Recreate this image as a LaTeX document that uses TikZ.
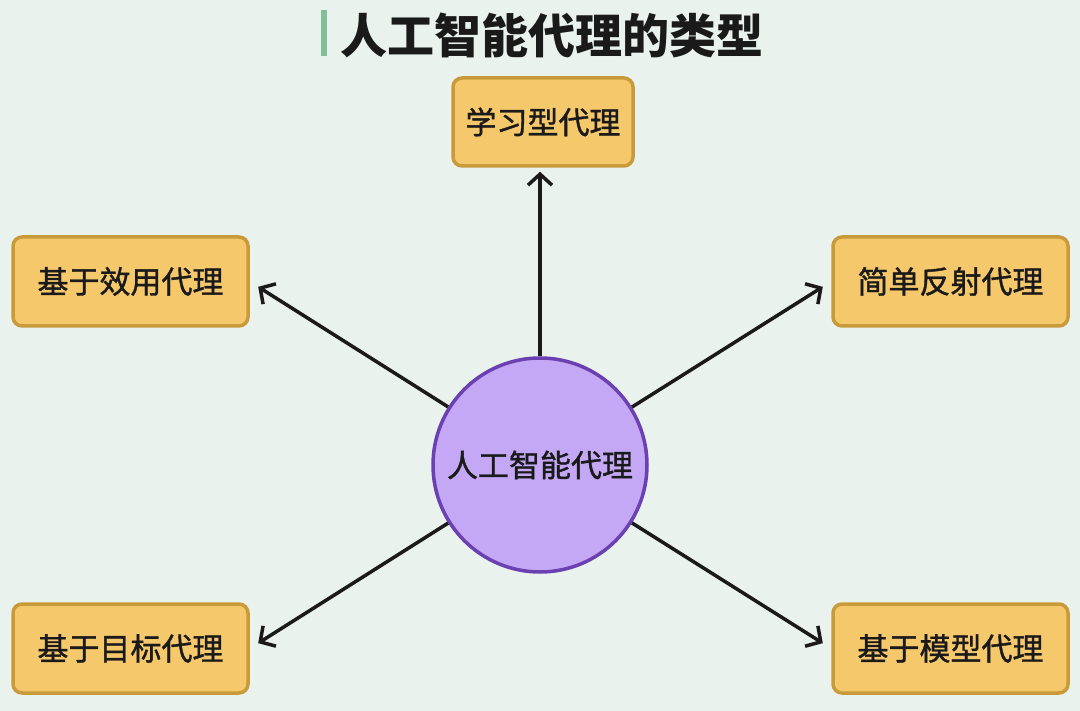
\documentclass[tikz,border=0pt]{standalone}
\usepackage{fontspec}
\newfontfamily\cjk{Noto Sans CJK SC}
\newfontfamily\cjkm[FakeBold=1.2]{Noto Sans CJK SC}
\usetikzlibrary{arrows.meta}
\definecolor{bgc}{HTML}{EAF2EE}
\definecolor{boxfill}{HTML}{F5C86B}
\definecolor{boxline}{HTML}{C99A3A}
\definecolor{circfill}{HTML}{C4A8F6}
\definecolor{circline}{HTML}{6B40B0}
\definecolor{barc}{HTML}{82BF98}
\definecolor{txt}{HTML}{1A1A1A}
\tikzset{
  agent/.style={draw=boxline, fill=boxfill, line width=3.5pt, rounded corners=9pt,
    minimum width=235pt, minimum height=89pt, inner sep=0pt,
    font=\cjkm\fontsize{31}{35}\selectfont, text=txt},
  core/.style={circle, draw=circline, fill=circfill, line width=3.5pt,
    minimum size=214pt, inner sep=0pt, font=\cjkm\fontsize{31}{35}\selectfont, text=txt},
  link/.style={draw=txt, line width=3.5pt,
    -{Straight Barb[length=11pt,width=24pt,line width=3.5pt]}, shorten >=10pt}
}
\begin{document}
\begin{tikzpicture}[x=1pt,y=-1pt]
\fill[bgc] (0,0) rectangle (1080,711);
\useasboundingbox (0,0) rectangle (1080,711);
\fill[barc] (321,10) rectangle (327,56);
\node[font=\cjk\bfseries\fontsize{47}{50}\selectfont, text=txt, anchor=west, inner sep=0pt] (title) at (340,35) {人工智能代理的类型};
\node[core] (c) at (540,465) {人工智能代理};
\node[agent, minimum width=180pt, minimum height=88pt] (learn) at (543,122) {学习型代理};
\node[agent] (util) at (130.5,281.5) {基于效用代理};
\node[agent] (simple) at (950.5,281.5) {简单反射代理};
\node[agent] (goal) at (130.5,648.5) {基于目标代理};
\node[agent] (model) at (950.5,648.5) {基于模型代理};
\draw[link, shorten >=4pt] (c.north) -- (c.north |- learn.south);
\draw[link] (c) -- (util.east);
\draw[link] (c) -- (simple.west);
\draw[link] (c) -- (goal.east);
\draw[link] (c) -- (model.west);
\end{tikzpicture}
\end{document}
